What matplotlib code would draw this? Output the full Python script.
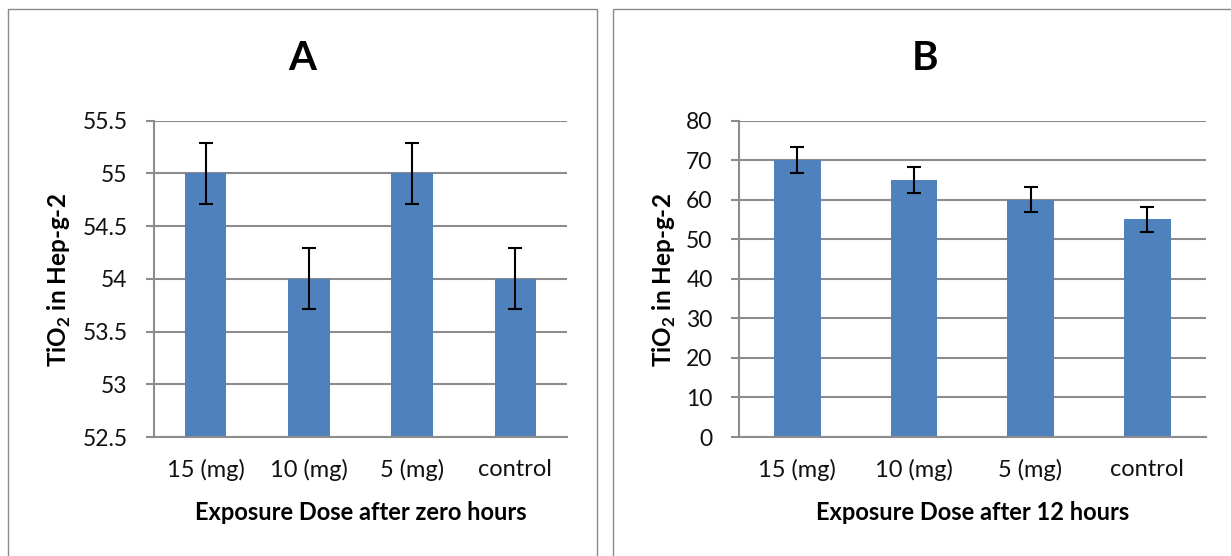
import matplotlib
matplotlib.use("Agg")
import matplotlib.pyplot as plt
from matplotlib.patches import Rectangle

plt.rcParams['font.family'] = ['Lato', 'DejaVu Sans']
plt.rcParams['mathtext.fontset'] = 'custom'
plt.rcParams['mathtext.rm'] = 'Lato'
plt.rcParams['mathtext.bf'] = 'Lato:bold'

categories = ["15 (mg)", "10 (mg)", "5 (mg)", "control"]
values_a = [55, 54, 55, 54]
errors_a = [0.29, 0.29, 0.29, 0.29]
values_b = [70, 65, 60, 55]
errors_b = [3.2, 3.2, 3.2, 3.2]
yticks_a = [52.5, 53, 53.5, 54, 54.5, 55, 55.5]
yticks_b = [0, 10, 20, 30, 40, 50, 60, 70, 80]

W, H = 1231, 556
fig = plt.figure(figsize=(W / 100, H / 100), dpi=100)

bar_color = '#4F81BD'
grid_color = '#8C8C8C'

def px_axes(l, r, t, b):
    return [l / W, 1 - b / H, (r - l) / W, (b - t) / H]

panels = [
    dict(ax=px_axes(154, 567, 120.6, 437), vals=values_a, errs=errors_a,
         ticks=yticks_a, ylim=(52.5, 55.5), title="A",
         xlabel="Exposure Dose after zero hours",
         box=(8, 9, 589), title_x=302.5, ylab_x=59),
    dict(ax=px_axes(739, 1205.5, 120.6, 437), vals=values_b, errs=errors_b,
         ticks=yticks_b, ylim=(0, 80), title="B",
         xlabel="Exposure Dose after 12 hours",
         box=(613, 9, 624), title_x=925, ylab_x=664),
]

for p in panels:
    x0, y0, w = p['box']
    fig.add_artist(Rectangle((x0 / W, -0.1), w / W, 1 - y0 / H + 0.1,
                             transform=fig.transFigure, fill=False,
                             edgecolor='#8A8A8A', linewidth=1.0))
    ax = fig.add_axes(p['ax'])
    x = list(range(len(categories)))
    ax.bar(x, p['vals'], width=0.4, color=bar_color, zorder=2)
    ax.errorbar(x, p['vals'], yerr=p['errs'], fmt='none', ecolor='black',
                elinewidth=1.5, capsize=5, capthick=1.5, zorder=3)
    ax.set_xlim(-0.5, len(categories) - 0.5)
    ax.set_ylim(*p['ylim'])
    ax.set_yticks(p['ticks'])
    ax.set_yticklabels(['%g' % v for v in p['ticks']])
    ax.set_xticks(x)
    ax.set_xticklabels(categories)
    ax.yaxis.grid(True, color=grid_color, linewidth=1.5, zorder=1)
    ax.set_axisbelow(True)
    for s in ['top', 'right']:
        ax.spines[s].set_visible(False)
    for s in ['left', 'bottom']:
        ax.spines[s].set_color(grid_color)
        ax.spines[s].set_linewidth(1.5)
    ax.tick_params(axis='y', length=6, width=1.5, color=grid_color,
                   labelsize=16.5, pad=13, labelcolor='#111111')
    ax.tick_params(axis='x', length=0, labelsize=17, pad=16,
                   labelcolor='#111111')
    ax.set_xlabel(p['xlabel'], fontsize=17, fontweight='bold', labelpad=14)
    fig.text(p['title_x'] / W, 1 - 59 / H, p['title'], fontsize=29,
             fontweight='bold', ha='center', va='center')
    fig.text(p['ylab_x'] / W, 1 - 280 / H, r'TiO$_{\mathbf{2}}$ in Hep-g-2',
             rotation=90, fontsize=17.5, fontweight='bold',
             ha='center', va='center')

fig.savefig('out.png', dpi=100, facecolor='white')
